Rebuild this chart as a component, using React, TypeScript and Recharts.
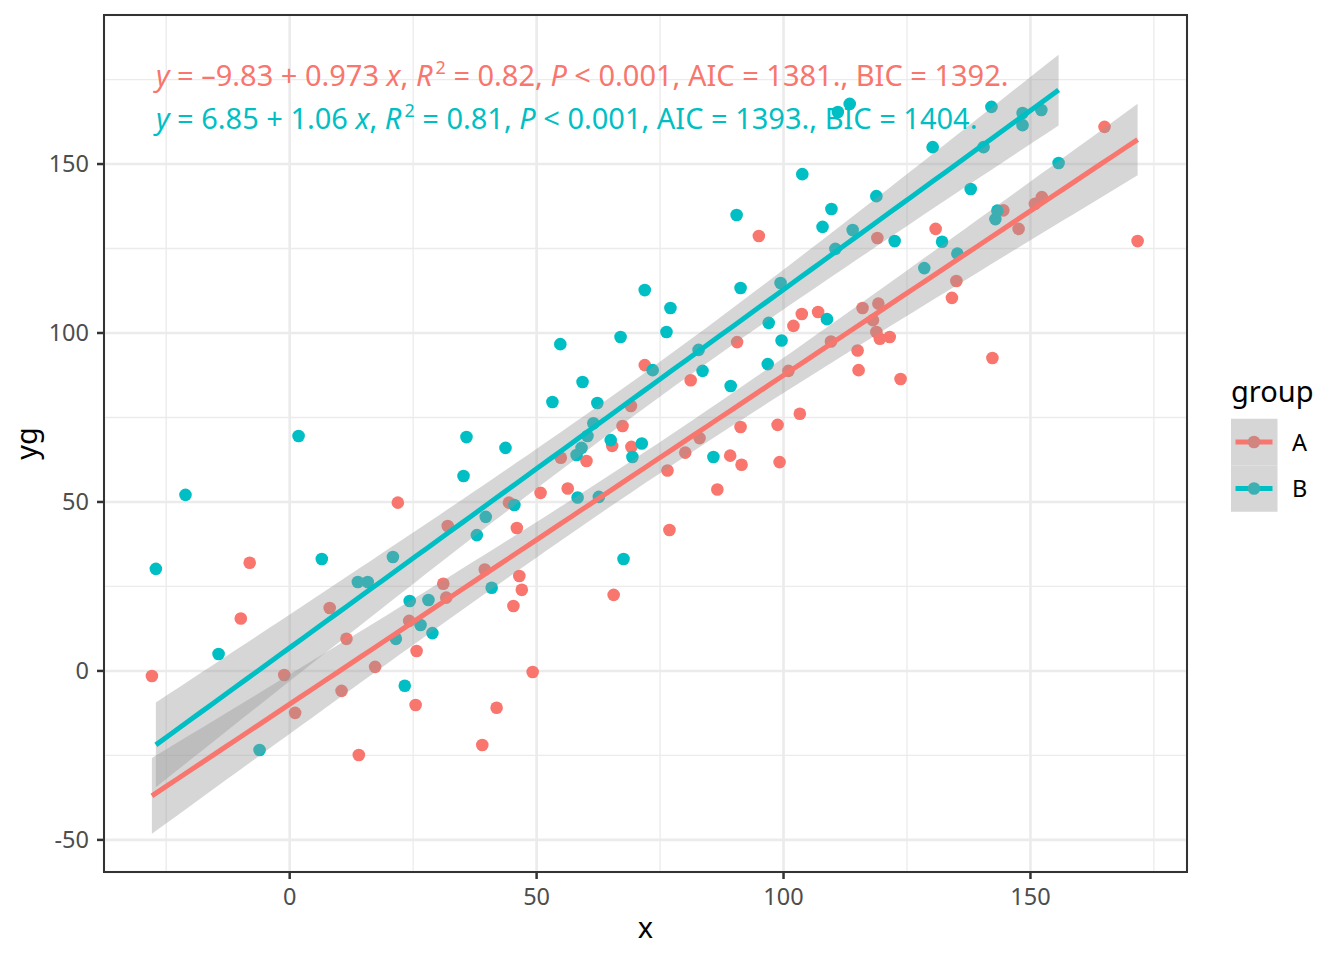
import React from 'react';
import {
  ComposedChart, Scatter, Line, Area, XAxis, YAxis,
  CartesianGrid, ReferenceLine
} from 'recharts';

// group A (red)
const groupAX = [
  -27.9, -9.9, -8.1, -1.1, 1.1, 8.1, 10.5, 11.5, 14.0, 17.3,
  21.9, 24.2, 25.5, 25.7, 31.1, 31.7, 32.0, 39.0, 39.5, 41.9,
  44.4, 45.3, 46.0, 46.5, 47.0, 49.2, 50.8, 54.9, 56.3, 60.1,
  65.3, 65.6, 67.4, 69.1, 69.2, 71.9, 76.5, 76.9, 80.1, 81.2,
  83.0, 86.6, 89.2, 90.6, 91.3, 91.5, 95.0, 98.8, 99.2, 101.0,
  102.0, 103.3, 103.7, 107.0, 109.6, 115.0, 115.2, 116.0, 118.1, 118.8,
  119.0, 119.2, 119.5, 121.5, 123.7, 130.8, 134.1, 135.0, 142.3, 144.5,
  147.6, 150.9, 152.3, 165.0, 171.7,
];
const groupAY = [
  -1.5, 15.5, 32.0, -1.2, -12.4, 18.6, -5.9, 9.5, -24.9, 1.2,
  49.8, 14.8, -10.1, 5.9, 25.8, 21.7, 42.9, -21.9, 30.0, -10.9,
  49.8, 19.2, 42.3, 28.1, 24.0, -0.3, 52.7, 63.1, 54.0, 62.1,
  66.6, 22.5, 72.5, 78.4, 66.3, 90.5, 59.3, 41.7, 64.6, 86.0,
  68.9, 53.7, 63.7, 97.3, 72.2, 61.0, 128.7, 72.8, 61.8, 88.8,
  102.1, 76.1, 105.6, 106.2, 97.5, 94.8, 89.0, 107.4, 103.8, 100.3,
  128.1, 108.7, 98.3, 98.8, 86.4, 130.8, 110.4, 115.4, 92.6, 136.3,
  130.8, 138.2, 140.2, 161.0, 127.2,
];

// group B (teal)
const groupBX = [
  -27.1, -21.1, -14.4, -6.1, 1.8, 6.5, 13.8, 15.8, 20.9, 21.5,
  23.3, 24.3, 26.5, 28.1, 28.9, 35.2, 35.8, 37.9, 39.7, 40.9,
  43.7, 45.5, 53.2, 54.8, 58.1, 58.3, 59.1, 59.3, 60.3, 61.5,
  62.3, 62.6, 65.0, 67.0, 67.6, 69.4, 71.3, 71.9, 73.5, 76.3,
  77.1, 82.8, 83.6, 85.8, 89.3, 90.5, 91.3, 96.8, 97.0, 99.4,
  99.6, 103.8, 107.9, 108.8, 109.7, 110.5, 111.0, 113.4, 114.0, 118.8,
  122.5, 128.5, 130.2, 132.1, 135.2, 137.9, 140.5, 142.1, 142.9, 143.3,
  148.4, 148.4, 152.2, 155.7,
];
const groupBY = [
  30.2, 52.1, 5.0, -23.4, 69.5, 33.1, 26.3, 26.3, 33.7, 9.5,
  -4.4, 20.7, 13.6, 21.0, 11.2, 57.7, 69.2, 40.2, 45.6, 24.6,
  66.0, 49.1, 79.6, 96.7, 63.9, 51.3, 66.0, 85.5, 69.5, 73.3,
  79.3, 51.5, 68.3, 98.8, 33.1, 63.3, 67.3, 112.7, 89.0, 100.3,
  107.4, 95.0, 88.8, 63.3, 84.3, 134.9, 113.3, 90.8, 103.0, 114.8,
  97.8, 147.0, 131.4, 104.1, 136.7, 124.9, 165.4, 167.8, 130.5, 140.5,
  127.2, 119.2, 155.0, 127.0, 123.5, 142.6, 155.0, 166.9, 133.7, 136.2,
  165.1, 161.5, 166.0, 150.3,
];

const groupNames = ['A', 'B'];
const groupColors = ['#F8766D', '#00BFC4'];
const dimColors = ['#D2847F', '#3DB0B3'];

// fitted coefficients as printed on the chart
const fitIntercepts = [-9.83, 6.85];
const fitSlopes = [0.973, 1.06];
const eqIntercepts = ['–9.83', '6.85'];
const eqSlopes = ['0.973', '1.06'];
const eqR2 = ['0.82', '0.81'];
const eqAIC = ['1381.', '1393.'];
const eqBIC = ['1392.', '1404.'];

const xTicks = [0, 50, 100, 150];
const yTicks = [-50, 0, 50, 100, 150];
const xMinor = [-25, 25, 75, 125, 175];
const yMinor = [-25, 25, 75, 125, 175];
const xDomain = [-37.6, 181.7];
const yDomain = [-59.5, 194.1];

const FONT = '"Noto Sans", "Open Sans", sans-serif';
const T_CRIT = 1.993;

const toPoints = (xs: number[], ys: number[]) => xs.map((x, i) => ({ x, y: ys[i] }));

function smoothData(xs: number[], ys: number[], a: number, b: number) {
  const n = xs.length;
  const xbar = xs.reduce((s, v) => s + v, 0) / n;
  const sxx = xs.reduce((s, v) => s + (v - xbar) ** 2, 0);
  const rss = xs.reduce((s, v, i) => s + (ys[i] - a - b * v) ** 2, 0);
  const sigma = Math.sqrt(rss / (n - 2));
  const lo = Math.min(...xs);
  const hi = Math.max(...xs);
  const out = [];
  for (let k = 0; k <= 80; k++) {
    const x = lo + ((hi - lo) * k) / 80;
    const fit = a + b * x;
    const se = sigma * Math.sqrt(1 / n + (x - xbar) ** 2 / sxx);
    out.push({ x, fit, band: [fit - T_CRIT * se, fit + T_CRIT * se] });
  }
  return out;
}

const pointsA = toPoints(groupAX, groupAY);
const pointsB = toPoints(groupBX, groupBY);
const smoothA = smoothData(groupAX, groupAY, fitIntercepts[0], fitSlopes[0]);
const smoothB = smoothData(groupBX, groupBY, fitIntercepts[1], fitSlopes[1]);

const dot = (color: string) => (props: any) => (
  <circle cx={props.cx} cy={props.cy} r={6.3} fill={color} />
);

function Equation({ i, baseline }: { i: number; baseline: number }) {
  return (
    <text x={156} y={baseline} fill={groupColors[i]} fontSize={29} fontFamily={FONT} style={{ whiteSpace: 'pre' }}>
      <tspan fontStyle="italic">y</tspan>
      <tspan>{` = ${eqIntercepts[i]} + ${eqSlopes[i]} `}</tspan>
      <tspan fontStyle="italic">x</tspan>
      <tspan>{', '}</tspan>
      <tspan fontStyle="italic">R</tspan>
      <tspan fontSize={18} dx={3} dy={-12}>2</tspan>
      <tspan dy={12}>{` = ${eqR2[i]}, `}</tspan>
      <tspan fontStyle="italic">P</tspan>
      <tspan>{` < 0.001, AIC = ${eqAIC[i]}, BIC = ${eqBIC[i]}`}</tspan>
    </text>
  );
}

export default function App() {
  const tickStyle = { fill: '#4D4D4D', fontSize: 23.5, fontFamily: FONT };
  return (
    <div style={{ position: 'absolute', left: 0, top: 0, width: 1344, height: 960, background: '#fff' }}>
      <ComposedChart width={1344} height={960} margin={{ top: 15, right: 157, bottom: 0, left: 0 }}>
        <CartesianGrid stroke="#EBEBEB" strokeWidth={2.6} />
        {xMinor.map((v) => (
          <ReferenceLine key={'vx' + v} x={v} stroke="#EBEBEB" strokeWidth={1.3} zIndex={-90} />
        ))}
        {yMinor.map((v) => (
          <ReferenceLine key={'hy' + v} y={v} stroke="#EBEBEB" strokeWidth={1.3} zIndex={-90} />
        ))}
        <XAxis
          type="number"
          dataKey="x"
          domain={xDomain}
          ticks={xTicks}
          allowDataOverflow
          height={88}
          axisLine={false}
          tickSize={7}
          tickMargin={9}
          tickLine={{ stroke: '#333', strokeWidth: 2.5 }}
          tick={tickStyle}
          label={{
            content: (p: any) => (
              <text x={p.viewBox.x + p.viewBox.width / 2} y={937.5} textAnchor="middle" fontSize={29} fontFamily={FONT} fill="#000">x</text>
            ),
          }}
        />
        <YAxis
          type="number"
          domain={yDomain}
          ticks={yTicks}
          allowDataOverflow
          width={104}
          axisLine={false}
          tickSize={7}
          tickMargin={8}
          tickLine={{ stroke: '#333', strokeWidth: 2.5 }}
          tick={tickStyle}
          label={{
            content: (p: any) => {
              const cy = p.viewBox.y + p.viewBox.height / 2;
              return (
                <text x={37} y={cy} transform={`rotate(-90, 37, ${cy})`} textAnchor="middle" fontSize={29} fontFamily={FONT} fill="#000">yg</text>
              );
            },
          }}
        />
        <Scatter data={pointsA} dataKey="y" shape={dot(groupColors[0])} zIndex={50} isAnimationActive={false} />
        <Scatter data={pointsB} dataKey="y" shape={dot(groupColors[1])} zIndex={50} isAnimationActive={false} />
        <Area data={smoothA} dataKey="band" type="linear" stroke="none" fill="#999999" fillOpacity={0.4} zIndex={100} isAnimationActive={false} />
        <Line data={smoothA} dataKey="fit" type="linear" stroke={groupColors[0]} strokeWidth={5} dot={false} zIndex={110} isAnimationActive={false} />
        <Area data={smoothB} dataKey="band" type="linear" stroke="none" fill="#999999" fillOpacity={0.4} zIndex={120} isAnimationActive={false} />
        <Line data={smoothB} dataKey="fit" type="linear" stroke={groupColors[1]} strokeWidth={5} dot={false} zIndex={130} isAnimationActive={false} />
      </ComposedChart>
      <svg width={1344} height={960} style={{ position: 'absolute', left: 0, top: 0, pointerEvents: 'none' }}>
        <rect x={104} y={15} width={1083} height={857} fill="none" stroke="#333" strokeWidth={2} />
        <Equation i={0} baseline={86} />
        <Equation i={1} baseline={128.5} />
        <text x={1231} y={402} fontSize={29} fontFamily={FONT} fill="#000">group</text>
        {groupNames.map((g, i) => {
          const cy = 442 + i * 46.5;
          return (
            <g key={g}>
              <rect x={1231} y={cy - 23.25} width={46.5} height={46.5} fill="#D6D6D6" />
              <line x1={1235.5} x2={1272.5} y1={cy} y2={cy} stroke={groupColors[i]} strokeWidth={5} />
              <circle cx={1254} cy={cy} r={6.3} fill={dimColors[i]} />
              <text x={1292} y={cy + 8.5} fontSize={23.5} fontFamily={FONT} fill="#000">{g}</text>
            </g>
          );
        })}
      </svg>
    </div>
  );
}
